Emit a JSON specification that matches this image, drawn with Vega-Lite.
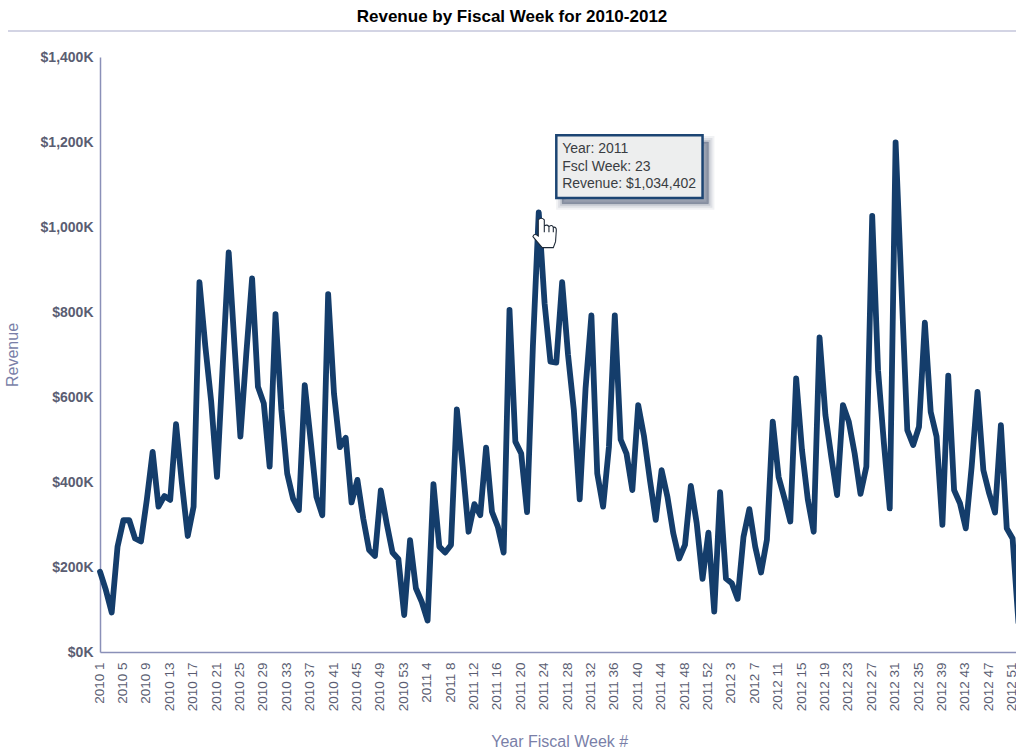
{"$schema":"https://vega.github.io/schema/vega-lite/v6.json","width":916,"height":595,"autosize":"none","padding":{"left":100,"top":57,"right":0,"bottom":100},"background":"#ffffff","title":{"text":"Revenue by Fiscal Week for 2010-2012","font":"Liberation Sans","fontSize":17,"fontWeight":"bold","color":"#000000","anchor":"middle","frame":"group","dx":-46,"offset":4},"config":{"view":{"stroke":null},"axis":{"grid":false,"ticks":false,"domainColor":"#8a90b8","domainWidth":1.5}},"encoding":{"x":{"field":"week","type":"ordinal","sort":null,"title":"Year Fiscal Week #","scale":{"type":"point","padding":0,"range":[0,918.45],"domain":["2010 1","2010 2","2010 3","2010 4","2010 5","2010 6","2010 7","2010 8","2010 9","2010 10","2010 11","2010 12","2010 13","2010 14","2010 15","2010 16","2010 17","2010 18","2010 19","2010 20","2010 21","2010 22","2010 23","2010 24","2010 25","2010 26","2010 27","2010 28","2010 29","2010 30","2010 31","2010 32","2010 33","2010 34","2010 35","2010 36","2010 37","2010 38","2010 39","2010 40","2010 41","2010 42","2010 43","2010 44","2010 45","2010 46","2010 47","2010 48","2010 49","2010 50","2010 51","2010 52","2010 53","2011 1","2011 2","2011 3","2011 4","2011 5","2011 6","2011 7","2011 8","2011 9","2011 10","2011 11","2011 12","2011 13","2011 14","2011 15","2011 16","2011 17","2011 18","2011 19","2011 20","2011 21","2011 22","2011 23","2011 24","2011 25","2011 26","2011 27","2011 28","2011 29","2011 30","2011 31","2011 32","2011 33","2011 34","2011 35","2011 36","2011 37","2011 38","2011 39","2011 40","2011 41","2011 42","2011 43","2011 44","2011 45","2011 46","2011 47","2011 48","2011 49","2011 50","2011 51","2011 52","2011 53","2012 1","2012 2","2012 3","2012 4","2012 5","2012 6","2012 7","2012 8","2012 9","2012 10","2012 11","2012 12","2012 13","2012 14","2012 15","2012 16","2012 17","2012 18","2012 19","2012 20","2012 21","2012 22","2012 23","2012 24","2012 25","2012 26","2012 27","2012 28","2012 29","2012 30","2012 31","2012 32","2012 33","2012 34","2012 35","2012 36","2012 37","2012 38","2012 39","2012 40","2012 41","2012 42","2012 43","2012 44","2012 45","2012 46","2012 47","2012 48","2012 49","2012 50","2012 51","2012 52"]},"axis":{"values":["2010 1","2010 5","2010 9","2010 13","2010 17","2010 21","2010 25","2010 29","2010 33","2010 37","2010 41","2010 45","2010 49","2010 53","2011 4","2011 8","2011 12","2011 16","2011 20","2011 24","2011 28","2011 32","2011 36","2011 40","2011 44","2011 48","2011 52","2012 3","2012 7","2012 11","2012 15","2012 19","2012 23","2012 27","2012 31","2012 35","2012 39","2012 43","2012 47","2012 51"],"labelAngle":270,"labelAlign":"right","labelBaseline":"middle","labelFont":"Liberation Sans","labelFontSize":13.5,"labelColor":"#5a5d72","labelPadding":10,"labelOffset":-1,"labelOverlap":false,"labelBound":false,"labelFlush":false,"titleFont":"Liberation Sans","titleFontSize":16,"titleFontWeight":"normal","titleColor":"#7a7fa8","titlePadding":23}},"y":{"field":"revenue","type":"quantitative","title":"Revenue","scale":{"domain":[0,1400],"nice":false,"zero":false},"axis":{"values":[0,200,400,600,800,1000,1200,1400],"labelExpr":"'$' + format(datum.value, ',') + 'K'","labelFont":"Liberation Sans","labelFontSize":14,"labelFontWeight":"bold","labelColor":"#5a5d72","labelPadding":7,"titleFont":"Liberation Sans","titleFontSize":16,"titleFontWeight":"normal","titleColor":"#7a7fa8","titlePadding":20}}},"layer":[{"data":{"values":[{"week":"2010 1","week_end":"2012 52","revenue":1461}]},"mark":{"type":"rule","xOffset":-92,"x2Offset":0,"stroke":"#d3d4e4","strokeWidth":2},"encoding":{"x2":{"field":"week_end"}}},{"data":{"values":[{"week":"2010 1","revenue":189},{"week":"2010 2","revenue":146},{"week":"2010 3","revenue":93},{"week":"2010 4","revenue":248},{"week":"2010 5","revenue":310},{"week":"2010 6","revenue":310},{"week":"2010 7","revenue":267},{"week":"2010 8","revenue":260},{"week":"2010 9","revenue":358},{"week":"2010 10","revenue":471},{"week":"2010 11","revenue":342},{"week":"2010 12","revenue":367},{"week":"2010 13","revenue":358},{"week":"2010 14","revenue":536},{"week":"2010 15","revenue":397},{"week":"2010 16","revenue":273},{"week":"2010 17","revenue":342},{"week":"2010 18","revenue":870},{"week":"2010 19","revenue":720},{"week":"2010 20","revenue":590},{"week":"2010 21","revenue":412},{"week":"2010 22","revenue":680},{"week":"2010 23","revenue":940},{"week":"2010 24","revenue":720},{"week":"2010 25","revenue":507},{"week":"2010 26","revenue":700},{"week":"2010 27","revenue":879},{"week":"2010 28","revenue":624},{"week":"2010 29","revenue":585},{"week":"2010 30","revenue":436},{"week":"2010 31","revenue":795},{"week":"2010 32","revenue":570},{"week":"2010 33","revenue":420},{"week":"2010 34","revenue":361},{"week":"2010 35","revenue":334},{"week":"2010 36","revenue":628},{"week":"2010 37","revenue":499},{"week":"2010 38","revenue":365},{"week":"2010 39","revenue":322},{"week":"2010 40","revenue":842},{"week":"2010 41","revenue":608},{"week":"2010 42","revenue":482},{"week":"2010 43","revenue":504},{"week":"2010 44","revenue":352},{"week":"2010 45","revenue":405},{"week":"2010 46","revenue":314},{"week":"2010 47","revenue":240},{"week":"2010 48","revenue":226},{"week":"2010 49","revenue":380},{"week":"2010 50","revenue":303},{"week":"2010 51","revenue":234},{"week":"2010 52","revenue":219},{"week":"2010 53","revenue":87},{"week":"2011 1","revenue":263},{"week":"2011 2","revenue":150},{"week":"2011 3","revenue":118},{"week":"2011 4","revenue":74},{"week":"2011 5","revenue":395},{"week":"2011 6","revenue":248},{"week":"2011 7","revenue":234},{"week":"2011 8","revenue":252},{"week":"2011 9","revenue":571},{"week":"2011 10","revenue":436},{"week":"2011 11","revenue":283},{"week":"2011 12","revenue":348},{"week":"2011 13","revenue":322},{"week":"2011 14","revenue":481},{"week":"2011 15","revenue":330},{"week":"2011 16","revenue":295},{"week":"2011 17","revenue":234},{"week":"2011 18","revenue":805},{"week":"2011 19","revenue":495},{"week":"2011 20","revenue":467},{"week":"2011 21","revenue":329},{"week":"2011 22","revenue":720},{"week":"2011 23","revenue":1034.402},{"week":"2011 24","revenue":820},{"week":"2011 25","revenue":683},{"week":"2011 26","revenue":681},{"week":"2011 27","revenue":870},{"week":"2011 28","revenue":700},{"week":"2011 29","revenue":569},{"week":"2011 30","revenue":359},{"week":"2011 31","revenue":620},{"week":"2011 32","revenue":792},{"week":"2011 33","revenue":420},{"week":"2011 34","revenue":342},{"week":"2011 35","revenue":483},{"week":"2011 36","revenue":792},{"week":"2011 37","revenue":500},{"week":"2011 38","revenue":467},{"week":"2011 39","revenue":381},{"week":"2011 40","revenue":581},{"week":"2011 41","revenue":507},{"week":"2011 42","revenue":405},{"week":"2011 43","revenue":311},{"week":"2011 44","revenue":428},{"week":"2011 45","revenue":365},{"week":"2011 46","revenue":279},{"week":"2011 47","revenue":220},{"week":"2011 48","revenue":252},{"week":"2011 49","revenue":391},{"week":"2011 50","revenue":303},{"week":"2011 51","revenue":172},{"week":"2011 52","revenue":281},{"week":"2011 53","revenue":95},{"week":"2012 1","revenue":376},{"week":"2012 2","revenue":173},{"week":"2012 3","revenue":162},{"week":"2012 4","revenue":125},{"week":"2012 5","revenue":271},{"week":"2012 6","revenue":336},{"week":"2012 7","revenue":248},{"week":"2012 8","revenue":187},{"week":"2012 9","revenue":264},{"week":"2012 10","revenue":542},{"week":"2012 11","revenue":412},{"week":"2012 12","revenue":362},{"week":"2012 13","revenue":307},{"week":"2012 14","revenue":644},{"week":"2012 15","revenue":475},{"week":"2012 16","revenue":358},{"week":"2012 17","revenue":283},{"week":"2012 18","revenue":740},{"week":"2012 19","revenue":558},{"week":"2012 20","revenue":460},{"week":"2012 21","revenue":369},{"week":"2012 22","revenue":581},{"week":"2012 23","revenue":542},{"week":"2012 24","revenue":467},{"week":"2012 25","revenue":372},{"week":"2012 26","revenue":436},{"week":"2012 27","revenue":1026},{"week":"2012 28","revenue":663},{"week":"2012 29","revenue":491},{"week":"2012 30","revenue":338},{"week":"2012 31","revenue":1199},{"week":"2012 32","revenue":860},{"week":"2012 33","revenue":522},{"week":"2012 34","revenue":487},{"week":"2012 35","revenue":530},{"week":"2012 36","revenue":775},{"week":"2012 37","revenue":565},{"week":"2012 38","revenue":507},{"week":"2012 39","revenue":299},{"week":"2012 40","revenue":650},{"week":"2012 41","revenue":381},{"week":"2012 42","revenue":350},{"week":"2012 43","revenue":291},{"week":"2012 44","revenue":436},{"week":"2012 45","revenue":612},{"week":"2012 46","revenue":428},{"week":"2012 47","revenue":373},{"week":"2012 48","revenue":328},{"week":"2012 49","revenue":534},{"week":"2012 50","revenue":291},{"week":"2012 51","revenue":267},{"week":"2012 52","revenue":70}]},"mark":{"type":"line","stroke":"#143d6b","strokeWidth":5.8,"strokeJoin":"round","strokeCap":"round","interpolate":"linear"}},{"data":{"values":[{"week":"2011 27","week_end":"2011 52","revenue":1200,"revenue_low":1055}]},"layer":[{"mark":{"type":"rect","fill":"#3a4766","fillOpacity":0.07,"stroke":"#3a4766","strokeOpacity":0.07,"strokeWidth":12}},{"mark":{"type":"rect","fill":"#3a4766","fillOpacity":0.1,"stroke":"#3a4766","strokeOpacity":0.1,"strokeWidth":8}},{"mark":{"type":"rect","fill":"#3a4766","fillOpacity":0.14,"stroke":"#3a4766","strokeOpacity":0.14,"strokeWidth":4}},{"mark":{"type":"rect","fill":"#3a4766","fillOpacity":0.18,"stroke":"#3a4766","strokeOpacity":0.18,"strokeWidth":1}}],"encoding":{"x2":{"field":"week_end"},"y2":{"field":"revenue_low"}}},{"data":{"values":[{"week":"2011 26","week_end":"2011 51","revenue":1216,"revenue_low":1068}]},"mark":{"type":"rect","fill":"#edeeee","stroke":"#1c4573","strokeWidth":2.5},"encoding":{"x2":{"field":"week_end"},"y2":{"field":"revenue_low"}}},{"data":{"values":[{"week":"2011 27","revenue":1184,"line":"Year: 2011"},{"week":"2011 27","revenue":1142,"line":"Fscl Week: 23"},{"week":"2011 27","revenue":1101,"line":"Revenue: $1,034,402"}]},"mark":{"type":"text","align":"left","baseline":"middle","font":"Liberation Sans","fontSize":14,"fill":"#3a3d42"},"encoding":{"text":{"field":"line"}}},{"data":{"values":[{"week":"2011 24","revenue":986}]},"mark":{"type":"point","filled":true,"fill":"#ffffff","fillOpacity":1,"stroke":"#1f2a38","strokeWidth":1.1,"size":900,"shape":"M-0.42 -0.87 Q-0.22 -1.09 -0.02 -0.87 L-0.02 -0.47 Q0.18 -0.6 0.29 -0.42 Q0.51 -0.6 0.58 -0.38 Q0.8 -0.42 0.78 -0.16 L0.73 0.58 L0.58 0.98 L-0.16 0.98 L-0.78 0.24 Q-0.71 -0.02 -0.42 0.2 Z M-0.02 -0.47 L-0.02 -0.05 M0.29 -0.42 L0.29 -0.05 M0.58 -0.38 L0.58 -0.05"}}]}
